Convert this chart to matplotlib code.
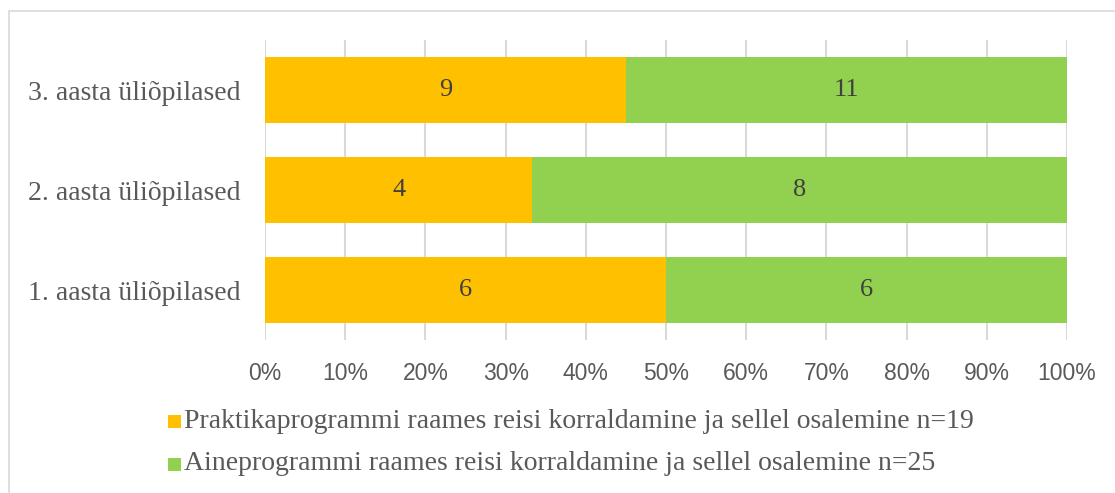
import matplotlib
matplotlib.use("Agg")
import matplotlib.pyplot as plt
from matplotlib.patches import Rectangle
import numpy as np

categories = ["1. aasta üliõpilased", "2. aasta üliõpilased", "3. aasta üliõpilased"]
praktika = [6, 4, 9]
aine = [6, 8, 11]
series_names = ["Praktikaprogrammi raames reisi korraldamine ja sellel osalemine n=19",
                "Aineprogrammi raames reisi korraldamine ja sellel osalemine n=25"]
colors = ["#FFC000", "#92D050"]
tick_labels = ["0%", "10%", "20%", "30%", "40%", "50%", "60%", "70%", "80%", "90%", "100%"]

W, H = 1115, 493
fig = plt.figure(figsize=(W / 100, H / 100), dpi=100)
ax = fig.add_axes([265 / W, 1 - 340 / H, (1067 - 265) / W, 300 / H])

p = np.array(praktika, float)
a = np.array(aine, float)
tot = p + a
pf = p / tot * 100
af = a / tot * 100
y = np.arange(len(categories))

ax.set_axisbelow(True)
ax.grid(axis="x", color="#D9D9D9", linewidth=1.5)
ax.barh(y, pf, height=0.66, color=colors[0], label=series_names[0])
ax.barh(y, af, left=pf, height=0.66, color=colors[1], label=series_names[1])

for i in range(len(categories)):
    ax.text(pf[i] / 2, y[i], str(praktika[i]), ha="center", va="center",
            fontsize=19, family="Liberation Serif", color="#404040")
    ax.text(pf[i] + af[i] / 2, y[i], str(aine[i]), ha="center", va="center",
            fontsize=19, family="Liberation Serif", color="#404040")

ax.set_xlim(0, 100)
ax.set_ylim(-0.5, 2.5)
ax.set_xticks(np.arange(0, 101, 10))
ax.set_xticklabels(tick_labels, family="Liberation Sans", fontsize=16.5, color="#595959")
ax.set_yticks(y)
ax.set_yticklabels(categories, family="Liberation Serif", fontsize=20, color="#595959")
ax.tick_params(axis="x", length=0, pad=16)
ax.tick_params(axis="y", length=0, pad=18)
for s in ax.spines.values():
    s.set_visible(False)

# figure border
fig.patches.append(Rectangle((9 / W, -0.1), 1.2, 1 - 11 / H + 0.1, transform=fig.transFigure,
                             fill=False, edgecolor="#D9D9D9", linewidth=1.2))

for k, (name, c) in enumerate(zip(series_names, colors)):
    yy = 1 - (421 + 43 * k) / H
    fig.patches.append(Rectangle((168 / W, yy - 7 / H), 13 / W, 13 / H,
                                 transform=fig.transFigure, facecolor=c, edgecolor="none"))
    fig.text(184 / W, yy, name, ha="left", va="center", fontsize=20,
             family="Liberation Serif", color="#595959")

fig.savefig("out.png", dpi=100)
